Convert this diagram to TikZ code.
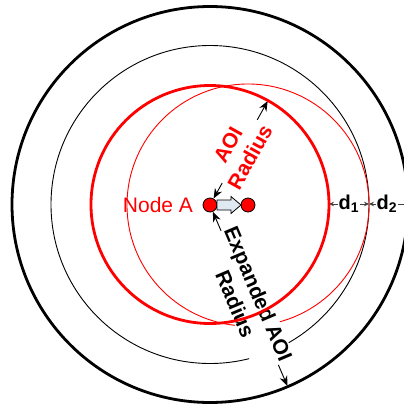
\documentclass[tikz,border=0pt]{standalone}
\usepackage{fontspec}
\setmainfont{Liberation Sans}
\usetikzlibrary{arrows.meta}
\definecolor{arrowfill}{HTML}{E0E8F2}
\begin{document}
\begin{tikzpicture}[x=1pt,y=-1pt,
  dot/.style={circle,draw=black,fill=red,minimum size=14pt,inner sep=0pt,line width=0.8pt},
  radarrow/.style={{Stealth[length=10pt,width=8pt]}-{Stealth[length=10pt,width=8pt]},line width=0.9pt},
  darrow/.style={{Stealth[length=5pt,width=4.5pt]}-{Stealth[length=5pt,width=4.5pt]},line width=0.8pt,draw=black!75},
  rlabel/.style={font=\fontsize{21}{25}\selectfont\bfseries,align=center,fill=white,inner sep=1pt},
  dlabel/.style={font=\fontsize{20}{22}\selectfont\bfseries,fill=white,inner sep=1pt},
  thinring/.style={line width=0.9pt},
  thickring/.style={line width=2.8pt}
]
\useasboundingbox (0,0) rectangle (404,408);
\clip (0,0) rectangle (404,408);
% thin circles
\draw[thinring,black] (210,204.5) circle[radius=159];
\draw[thinring,red] (248,205) circle[radius=121];
% nodes
\node[dot] (A) at (210,205) {};
\node[dot] (B) at (248,205) {};
% radius arrows
\coordinate (aoiend) at (267.7,101);
\coordinate (expend) at (287.4,386);
\draw[radarrow] (A) -- (aoiend);
\draw[radarrow] (A) -- (expend);
% d arrows
\coordinate (d1a) at (329,204);
\coordinate (d1b) at (369,204);
\coordinate (d2b) at (409,204);
\draw[darrow] (d1a) -- node[dlabel] {d\textsubscript{1}} (d1b);
\draw[darrow] (d1b) -- node[dlabel,xshift=-2pt] {d\textsubscript{2}} (d2b);
% labels
\node[rlabel,text=red,rotate=61] (aoi) at (239,151) {AOI\\Radius};
\node[rlabel,text=black,rotate=-67] (exp) at (247,299) {Expanded AOI\\Radius};
% thick circles
\draw[thickring,red] (210,204.5) circle[radius=119];
\draw[thickring,black] (210,204.5) circle[radius=198];
% hollow arrow
\draw[fill=arrowfill,line width=0.8pt] (217,200) -- (231,200) -- (231,196.5) -- (241,205) -- (231,213.5) -- (231,210) -- (217,210) -- cycle;
\node[text=red,font=\fontsize{21}{24}\selectfont] (lab) at (158,205) {Node A};
\end{tikzpicture}
\end{document}
